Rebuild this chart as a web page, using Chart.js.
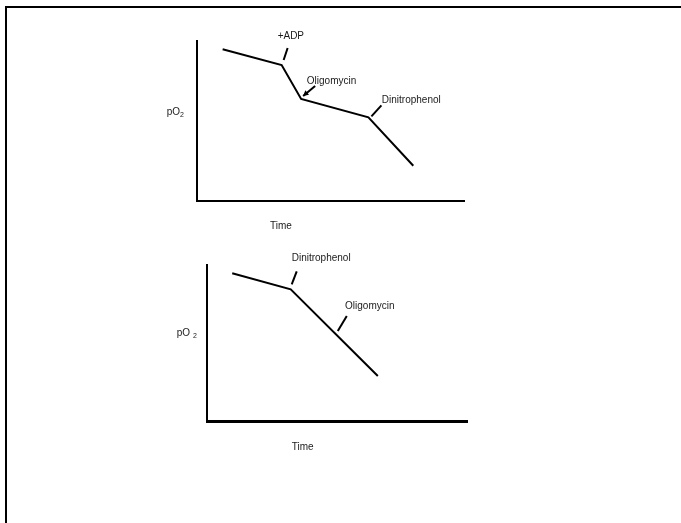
<!DOCTYPE html>
<html>
<head>
    <title>Oxygen consumption traces</title>
    <script src="https://cdn.jsdelivr.net/npm/chart.js@4"></script>
    <style>
        body { margin: 0; background: #fff; }
        #frame { position: absolute; left: 5px; top: 6px; width: 700px; height: 540px;
                 border-left: 2px solid #000; border-top: 2px solid #000; }
        canvas { position: absolute; left: 0; top: 0; }
    </style>
</head>
<body>
    <div id="frame"></div>
    <canvas id="topChart" width="681" height="523"></canvas>
    <canvas id="bottomChart" width="681" height="523"></canvas>
    <script>
        // trace 1: coupled mitochondria, additions in order
        var topTime = [9.6, 31.7, 39.0, 64.2, 81.0];
        var topPO2 = [94.8, 85.0, 63.8, 52.3, 22.0];
        var topEvents = ['+ADP', 'Oligomycin', 'Dinitrophenol'];
        var topEventTime = [31.7, 39.0, 64.2];
        var topEventPO2 = [85.0, 63.8, 52.3];

        // trace 2: uncoupler first, then oligomycin
        var bottomTime = [9.7, 32.2, 65.7];
        var bottomPO2 = [94.7, 84.4, 28.8];
        var bottomEvents = ['Dinitrophenol', 'Oligomycin'];
        var bottomEventTime = [32.2, 50.3];
        var bottomEventPO2 = [84.4, 54.5];

        var FONT = '10px "Liberation Sans", Arial, sans-serif';

        var notes = {
            id: 'notes',
            afterDatasetsDraw: function(chart, args, opts) {
                var ctx = chart.ctx, xs = chart.scales.x, ys = chart.scales.y, a = chart.chartArea;
                ctx.save();
                ctx.strokeStyle = '#000';
                ctx.fillStyle = '#1a1a1a';
                ctx.lineWidth = 2;
                ctx.font = FONT;
                ctx.textBaseline = 'middle';
                ctx.textAlign = 'left';
                opts.events.forEach(function(e) {
                    var px = xs.getPixelForValue(e.t), py = ys.getPixelForValue(e.p);
                    var x1 = px + e.tick[0], y1 = py + e.tick[1];
                    var x2 = px + e.tick[2], y2 = py + e.tick[3];
                    ctx.beginPath();
                    ctx.moveTo(x1, y1);
                    ctx.lineTo(x2, y2);
                    ctx.stroke();
                    if (e.arrow) {
                        var ang = Math.atan2(y1 - y2, x1 - x2);
                        ctx.beginPath();
                        ctx.moveTo(x1, y1);
                        ctx.lineTo(x1 - 6 * Math.cos(ang - 0.5), y1 - 6 * Math.sin(ang - 0.5));
                        ctx.lineTo(x1 - 6 * Math.cos(ang + 0.5), y1 - 6 * Math.sin(ang + 0.5));
                        ctx.closePath();
                        ctx.fillStyle = '#000';
                        ctx.fill();
                        ctx.fillStyle = '#1a1a1a';
                    }
                    ctx.fillText(e.label, px + e.text[0], py + e.text[1]);
                });
                // y label pO2 with subscript
                var yl = opts.yLabel;
                var lx = a.left + yl.dx, ly = a.top + yl.dy;
                ctx.fillText('pO', lx, ly);
                var w = ctx.measureText('pO').width + yl.gap;
                ctx.font = '7px "Liberation Sans", Arial, sans-serif';
                ctx.fillText('2', lx + w, ly + 3);
                ctx.font = FONT;
                // x label
                ctx.fillText('Time', a.left + opts.xLabel.dx, a.bottom + opts.xLabel.dy);
                ctx.restore();
            }
        };

        function makeChart(id, times, values, events, area, marks, labels, baseWidth) {
            var pts = times.map(function(t, i) { return { x: t, y: values[i] }; });
            var ev = events.map(function(name, i) {
                return { label: name, t: marks[i].t, p: marks[i].p,
                         tick: marks[i].tick, text: marks[i].text, arrow: marks[i].arrow };
            });
            var axis = {
                type: 'linear', min: 0, max: 100,
                grid: { display: false, drawTicks: false },
                border: { display: true, color: '#000', width: 2 },
                ticks: { display: false }
            };
            return new Chart(document.getElementById(id).getContext('2d'), {
                type: 'line',
                data: {
                    datasets: [{
                        data: pts,
                        borderColor: '#000',
                        borderWidth: 2,
                        pointRadius: 0,
                        tension: 0,
                        fill: false
                    }]
                },
                options: {
                    responsive: false,
                    animation: false,
                    events: [],
                    layout: { padding: area },
                    scales: {
                        x: Object.assign({}, axis, {
                            border: { display: true, color: '#000', width: baseWidth },
                            afterFit: function(s) { s.height = 0; }
                        }),
                        y: Object.assign({}, axis, { afterFit: function(s) { s.width = 0; } })
                    },
                    plugins: {
                        legend: { display: false },
                        tooltip: { enabled: false },
                        notes: { events: ev, yLabel: labels.y, xLabel: labels.x }
                    }
                },
                plugins: [notes]
            });
        }

        makeChart('topChart', topTime, topPO2, topEvents,
            { left: 197, top: 41, right: 217, bottom: 322 },
            [
                { t: topEventTime[0], p: topEventPO2[0], tick: [2, -5, 6, -17], text: [-4, -28.5] },
                { t: topEventTime[1], p: topEventPO2[1], tick: [2, -3, 14, -13], text: [5.7, -18], arrow: true },
                { t: topEventTime[2], p: topEventPO2[2], tick: [3, -1, 13, -12], text: [13.4, -17.3] }
            ],
            { y: { dx: -30.3, dy: 71, gap: 0 }, x: { dx: 73, dy: 25 } }, 2);

        makeChart('bottomChart', bottomTime, bottomPO2, bottomEvents,
            { left: 207, top: 265, right: 214, bottom: 102 },
            [
                { t: bottomEventTime[0], p: bottomEventPO2[0], tick: [1, -5, 6, -18], text: [1, -31] },
                { t: bottomEventTime[1], p: bottomEventPO2[1], tick: [0, -5, 9, -20], text: [7.3, -29.5] }
            ],
            { y: { dx: -30.3, dy: 68, gap: 3 }, x: { dx: 84.7, dy: 26 } }, 3);
    </script>
</body>
</html>
